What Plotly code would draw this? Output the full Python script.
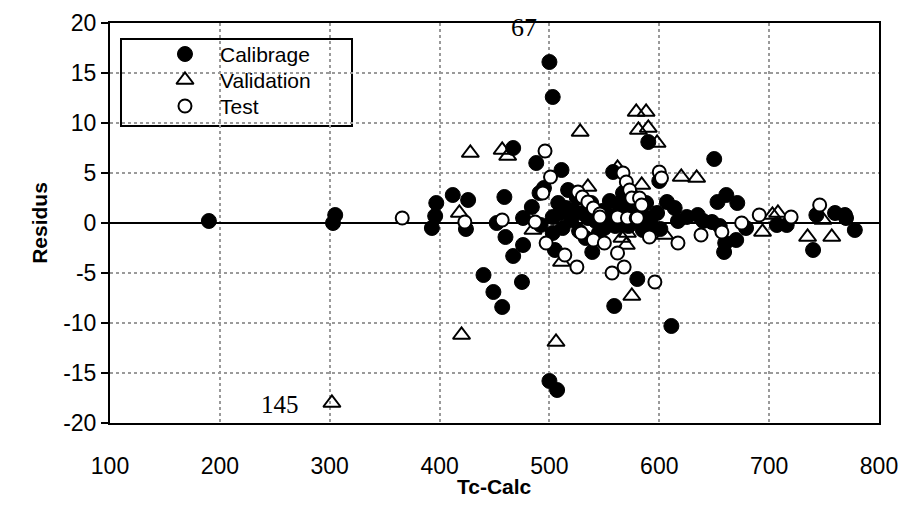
import plotly.graph_objects as go

# Calibrage (filled circles)
cal_x = [190, 303, 305, 393, 396, 397, 412, 426, 424, 440, 449, 452, 457, 459, 460, 467,
         467, 475, 476, 476, 484, 488, 491, 492, 495, 500, 500, 503, 503, 503, 505, 507,
         508, 510, 511, 512, 515, 517, 520, 522, 525, 527, 530, 533, 535, 538, 539, 542,
         545, 548, 550, 553, 555, 558, 559, 560, 563, 565, 567, 570, 572, 575, 578, 580,
         580, 583, 585, 588, 590, 592, 595, 598, 600, 601, 607, 611, 614, 617, 625, 635,
         640, 648, 650, 653, 655, 659, 660, 661, 670, 671, 679, 707, 716, 740, 743, 760,
         769, 770, 778]
cal_y = [0.2, 0.0, 0.8, -0.5, 0.7, 2.0, 2.8, 2.3, -0.6, -5.2, -6.9, 0.0, -8.4, 2.6, -1.4, 7.5,
         -3.3, -5.9, -2.2, 0.5, 1.6, 6.0, 3.0, -0.2, 3.5, 16.1, -15.8, 12.6, 0.6, -1.0, -2.7, -16.7,
         2.0, 1.0, 5.3, -0.5, 1.5, 3.3, 0.3, 1.2, 2.5, -0.8, 1.0, -1.5, 0.5, 2.0, -2.9, 0.2,
         -1.0, 1.2, -0.5, 0.8, 2.2, 5.1, -8.3, -0.3, 1.8, 0.5, 3.0, 1.5, -0.3, 0.8, 2.5, -5.6,
         0.3, 1.3, -0.7, 2.0, 8.1, 0.5, -0.5, 1.0, 4.2, -0.6, 2.1, -10.3, 1.5, 0.2, 0.6, 0.8,
         0.2, 0.1, 6.4, 2.1, -0.3, -2.9, -2.0, 2.8, -1.7, 2.0, -0.5, -0.2, -0.2, -2.7, 0.8, 1.0,
         0.8, 0.5, -0.7]

# Validation (open triangles)
val_x = [302, 420, 418, 428, 457, 462, 485, 506, 511, 528, 535, 562, 566, 570, 571, 575,
         579, 581, 584, 588, 590, 598, 605, 620, 634, 694, 703, 708, 735, 749, 757]
val_y = [-18.0, -11.2, 1.0, 7.0, 7.3, 6.7, -0.7, -11.9, -3.9, 9.1, 3.6, 5.5, -1.5, -2.2, -1.0, -7.3,
         11.1, 9.3, 3.8, 11.1, 9.5, 8.0, -1.2, 4.6, 4.5, -0.9, 0.8, 1.0, -1.4, 0.3, -1.4]

# Test (open circles)
test_x = [366, 423, 457, 487, 494, 496, 497, 501, 514, 525, 526, 529, 530, 535, 540, 540,
          546, 546, 550, 557, 562, 562, 567, 568, 570, 571, 573, 575, 579, 580, 582, 584,
          591, 596, 600, 602, 617, 638, 657, 675, 691, 720, 746]
test_y = [0.5, 0.1, 0.3, 0.1, 3.0, 7.2, -2.0, 4.6, -3.2, -4.4, 3.1, -1.0, 2.6, 2.1, 1.5, -1.7,
          0.9, 0.6, -2.0, -5.0, 0.6, -3.0, 5.0, -4.4, 4.1, 0.5, 3.3, 2.5, 0.5, 0.5, 2.5, 1.8,
          -1.4, -5.9, 5.1, 4.5, -2.0, -1.2, -0.9, 0.0, 0.8, 0.6, 1.8]

x_ticks = [100, 200, 300, 400, 500, 600, 700, 800]
x_labels = ["100", "200", "300", "400", "500", "600", "700", "800"]
y_ticks = [-20, -15, -10, -5, 0, 5, 10, 15, 20]
y_labels = ["-20", "-15", "-10", "-5", "0", "5", "10", "15", "20"]

legend_names = ["Calibrage", "Validation", "Test"]
legend_rows = [0.9225, 0.8575, 0.7925]   # row positions inside the legend overlay axis

cal_marker = dict(symbol="circle", size=15, color="black", line=dict(color="black", width=1))
val_marker = dict(symbol="triangle-up-open", size=15, color="black", line=dict(color="black", width=2))
test_marker = dict(symbol="circle", size=13, color="white", line=dict(color="black", width=2))

fig = go.Figure()
fig.add_trace(go.Scatter(x=cal_x, y=cal_y, mode="markers", name=legend_names[0], marker=cal_marker))
fig.add_trace(go.Scatter(x=val_x, y=val_y, mode="markers", name=legend_names[1], marker=val_marker))
fig.add_trace(go.Scatter(x=test_x, y=test_y, mode="markers", name=legend_names[2], marker=test_marker))

# hand-made legend (overlay axis in paper-like units)
mk_x = 0.0975
txt_x = 0.1417
for name, row, mk in zip(legend_names, legend_rows, [cal_marker, val_marker, test_marker]):
    fig.add_trace(go.Scatter(x=[mk_x], y=[row], xaxis="x2", yaxis="y2", mode="markers",
                             marker=mk, showlegend=False, hoverinfo="skip"))
    fig.add_annotation(x=txt_x, y=row, xref="x2", yref="y2", text=name, showarrow=False,
                       xanchor="left", yanchor="middle", borderpad=0,
                       font=dict(size=21, color="black"))

fig.add_shape(type="rect", xref="paper", yref="paper", x0=0.0143, x1=0.3147, y0=0.7425, y1=0.96,
              line=dict(color="black", width=2), fillcolor="white", layer="between")

fig.add_annotation(x=477, y=19.6, text="67", showarrow=False,
                   font=dict(family="Liberation Serif, Times New Roman", size=26, color="black"))
fig.add_annotation(x=255, y=-18.1, text="145", showarrow=False,
                   font=dict(family="Liberation Serif, Times New Roman", size=25, color="black"))

# x-axis title
fig.add_annotation(x=0.5, y=-0.16, xref="paper", yref="paper", text="<b>Tc-Calc</b>",
                   showarrow=False, xanchor="center", yanchor="middle", font=dict(size=21))

fig.update_layout(
    width=904, height=506,
    margin=dict(l=110, r=25, t=23, b=83, autoexpand=False),
    paper_bgcolor="white", plot_bgcolor="white",
    font=dict(family="Liberation Sans, Arial", size=23, color="black"),
    showlegend=False,
    xaxis=dict(range=[100, 800], tickvals=x_ticks, ticktext=x_labels, ticks="", showline=True,
               mirror=True, linecolor="black", linewidth=2, showgrid=True, gridcolor="#9a9a9a",
               griddash="dot", gridwidth=1.5, zeroline=False, ticklabelstandoff=21,
               automargin=False),
    yaxis=dict(range=[-20, 20], tickvals=y_ticks, ticktext=y_labels, ticks="outside", ticklen=7,
               tickwidth=2, tickcolor="black", showline=True, mirror=True, linecolor="black",
               linewidth=2, showgrid=True, gridcolor="#9a9a9a", griddash="dot", gridwidth=1.5,
               zeroline=True, zerolinecolor="black", zerolinewidth=2, automargin=False,
               title=dict(text="<b>Residus</b>", standoff=10, font=dict(size=21))),
    xaxis2=dict(range=[0, 1], overlaying="x", visible=False, domain=[0, 1]),
    yaxis2=dict(range=[0, 1], overlaying="y", visible=False, domain=[0, 1]),
)

fig.write_html("out.html")
